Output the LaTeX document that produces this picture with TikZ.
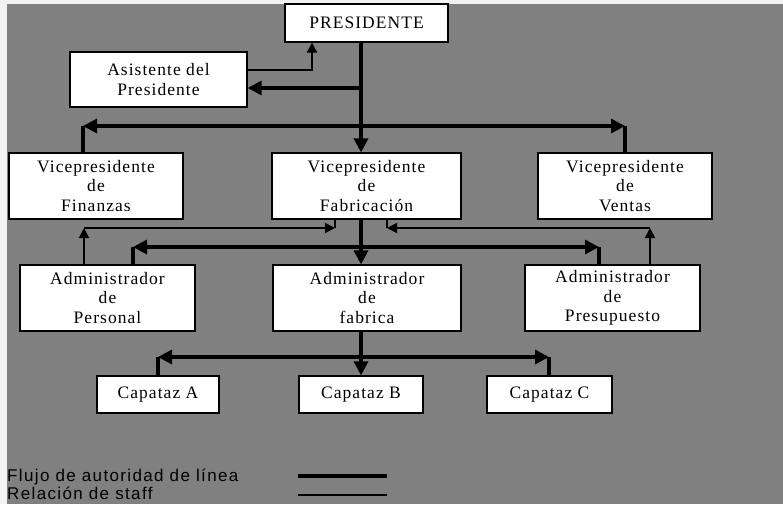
\documentclass[tikz,border=0pt]{standalone}
\usepackage{fontspec}
\setmainfont{Liberation Serif}[LetterSpace=6]
\newfontfamily\legendfont{Liberation Sans}[LetterSpace=8]
\usetikzlibrary{arrows.meta,positioning}
\definecolor{fondo}{RGB}{128,128,128}

\begin{document}
\begin{tikzpicture}[x=1pt,y=-1pt,
    box/.style={draw,fill=white,line width=1.2pt,inner sep=0pt,align=center,
      font=\fontsize{17.5}{19.5}\selectfont},
    line/.style={line width=3.2pt,>={Triangle[length=14pt,width=14pt]}},
    staff/.style={line width=1.6pt,>={Triangle[length=10pt,width=10pt]}}]
    \fill[gray!10] (0,0) rectangle (783,504);
    \fill[fondo] (7,4) rectangle (783,504);
    \useasboundingbox (0,0) rectangle (783,504);

    % presidente y asistente
    \node[box,minimum width=163pt,minimum height=38pt] (pres) at (366.5,23) {PRESIDENTE};
    \node[box,minimum width=177pt,minimum height=55pt] (asis) at (158.5,79.5) {Asistente del\\Presidente};

    % vicepresidentes
    \node[box,minimum width=174pt,minimum height=66pt] (vfin) at (96,186) {Vicepresidente\\de\\Finanzas};
    \node[box,minimum width=189pt,minimum height=66pt] (vfab) at (366.5,186) {Vicepresidente\\de\\Fabricación};
    \node[box,minimum width=174pt,minimum height=66pt] (vven) at (625,186) {Vicepresidente\\de\\Ventas};

    % administradores
    \node[box,minimum width=175pt,minimum height=66pt] (apers) at (107.5,298) {Administrador\\de\\Personal};
    \node[box,minimum width=188pt,minimum height=66pt] (afab) at (367,298) {Administrador\\de\\fabrica};
    \node[box,minimum width=175pt,minimum height=66pt] (apres) at (612.5,298) {Administrador\\de\\Presupuesto};

    % capataces
    \node[box,minimum width=122pt,minimum height=37pt] (capA) at (158,394.5) {Capataz A};
    \node[box,minimum width=124pt,minimum height=37pt] (capB) at (361,394.5) {Capataz B};
    \node[box,minimum width=125pt,minimum height=37pt] (capC) at (549.5,394.5) {Capataz C};

    % puntos de quiebre
    \coordinate (s1) at (361,88);
    \coordinate (a1) at (312,70);
    \coordinate (h1l) at (83,126);
    \coordinate (h1r) at (625,126);
    \coordinate (h2l) at (133,247);
    \coordinate (h2r) at (599,247);
    \coordinate (h3l) at (158,357);
    \coordinate (h3r) at (549,357);
    \coordinate (t1) at (84,228);
    \coordinate (t2) at (335,228);
    \coordinate (t3) at (387,228);
    \coordinate (t4) at (650,228);

    % autoridad de linea
    \draw[line,->] (pres.south -| s1) -- (vfab.north -| s1);
    \draw[line,->] (s1) -- (asis.east |- s1);
    \foreach \to in {h1l,h1r}
    \draw[line,->] (\to -| s1) -- (\to);
    \draw[line] (h1l) -- (vfin.north -| h1l);
    \draw[line] (h1r) -- (vven.north -| h1r);

    \draw[line,->] (vfab.south -| s1) -- (afab.north -| s1);
    \foreach \to in {h2l,h2r}
    \draw[line,->] (\to -| s1) -- (\to);
    \draw[line] (h2l) -- (apers.north -| h2l);
    \draw[line] (h2r) -- (apres.north -| h2r);

    \draw[line,->] (afab.south -| s1) -- (capB.north);
    \foreach \to in {h3l,h3r}
    \draw[line,->] (\to -| s1) -- (\to);
    \draw[line] (h3l) -- (capA.north);
    \draw[line] (h3r) -- (capC.north -| h3r);

    % staff
    \draw[staff,->] (asis.east |- a1) -| (pres.south -| a1);
    \draw[staff,->] (apers.north -| t1) -- (t1);
    \draw[staff,->] (t1) -- (t2);
    \draw[staff] (t2) -- (vfab.south -| t2);
    \draw[staff,->] (apres.north -| t4) -- (t4);
    \draw[staff,->] (t4) -- (t3);
    \draw[staff] (t3) -- (vfab.south -| t3);

    % leyenda
    \node[anchor=base west,inner sep=0pt,font=\legendfont\fontsize{17}{18}\selectfont] (flujo) at (7,481) {Flujo de autoridad de línea};
    \node[anchor=base west,inner sep=0pt,font=\legendfont\fontsize{17}{18}\selectfont] (rel) at (7,499) {Relación de staff};
    \coordinate (k1) at (298,476);
    \coordinate (k2) at (387,476);
    \coordinate (k3) at (298,495);
    \coordinate (k4) at (387,495);
    \draw[line] (k1) -- (k2);
    \draw[staff] (k3) -- (k4);
  \end{tikzpicture}
\end{document}
